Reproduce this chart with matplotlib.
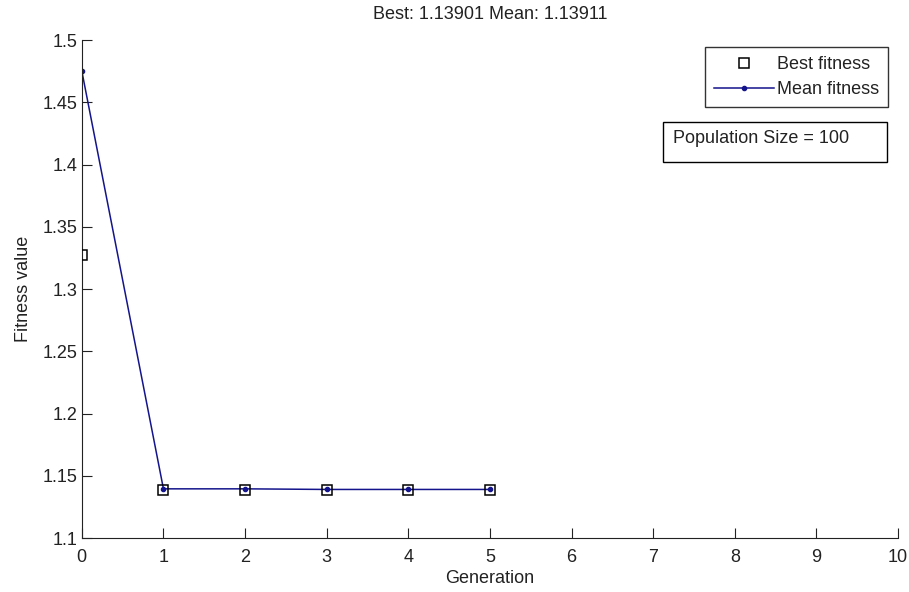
import matplotlib
matplotlib.use("Agg")
import matplotlib.pyplot as plt
import numpy as np

# data
generation = [0, 1, 2, 3, 4, 5]
best_fitness = [1.3273, 1.13901, 1.13901, 1.13901, 1.13901, 1.13901]
mean_fitness = [1.4753, 1.1396, 1.1396, 1.13911, 1.13911, 1.13911]
y_ticks = [1.1, 1.15, 1.2, 1.25, 1.3, 1.35, 1.4, 1.45, 1.5]
y_labels = ['1.1', '1.15', '1.2', '1.25', '1.3', '1.35', '1.4', '1.45', '1.5']

plt.rcParams['font.family'] = ['Liberation Sans', 'DejaVu Sans']
fs = 13

fig = plt.figure(figsize=(9.09, 5.92), dpi=100)
ax = fig.add_axes([0.090, 0.091, 0.898, 0.841])

ax.plot(generation, mean_fitness, color='#14148c', lw=1.1, marker='.', markersize=6,
        label='Mean fitness', zorder=2)
ax.plot(generation, best_fitness, ls='none', marker='s', markersize=7.5, mfc='none',
        mec='black', mew=1.1, label='Best fitness', zorder=3)

ax.set_xlim(0, 10)
ax.set_ylim(1.1, 1.5)
ax.set_xticks(range(0, 11))
ax.set_yticks(y_ticks)
ax.set_yticklabels(y_labels)
ax.tick_params(direction='in', length=7, labelsize=fs, top=False, right=False,
               pad=3, color='#222222', labelcolor='#222222')
ax.tick_params(axis='x', pad=8)
ax.spines['top'].set_visible(False)
ax.spines['right'].set_visible(False)
for s in ['left', 'bottom']:
    ax.spines[s].set_color('#222222')

ax.set_xlabel('Generation', fontsize=fs, labelpad=3, color='#222222')
ax.set_ylabel('Fitness value', fontsize=fs, labelpad=8, color='#222222')
ax.set_title('Best: 1.13901 Mean: 1.13911', fontsize=fs, pad=15, color='#222222')

h, l = ax.get_legend_handles_labels()
leg = ax.legend(h[::-1], l[::-1], loc='upper right', bbox_to_anchor=(0.988, 0.986),
                fontsize=fs, frameon=True, fancybox=False, edgecolor='black',
                handlelength=3.3, borderpad=0.5, labelspacing=0.45, handletextpad=0.2,
                borderaxespad=0)
leg.get_frame().set_linewidth(1)
for t in leg.get_texts():
    t.set_color('#222222')

# annotation box like the MATLAB text box
box = plt.Rectangle((0.712, 0.755), 0.2745, 0.080, transform=ax.transAxes,
                    fill=True, fc='white', ec='black', lw=1, zorder=5)
ax.add_patch(box)
ax.text(0.724, 0.803, 'Population Size = 100', transform=ax.transAxes, fontsize=fs,
        va='center', ha='left', color='#222222', zorder=6)

fig.savefig('out.png', dpi=100)
